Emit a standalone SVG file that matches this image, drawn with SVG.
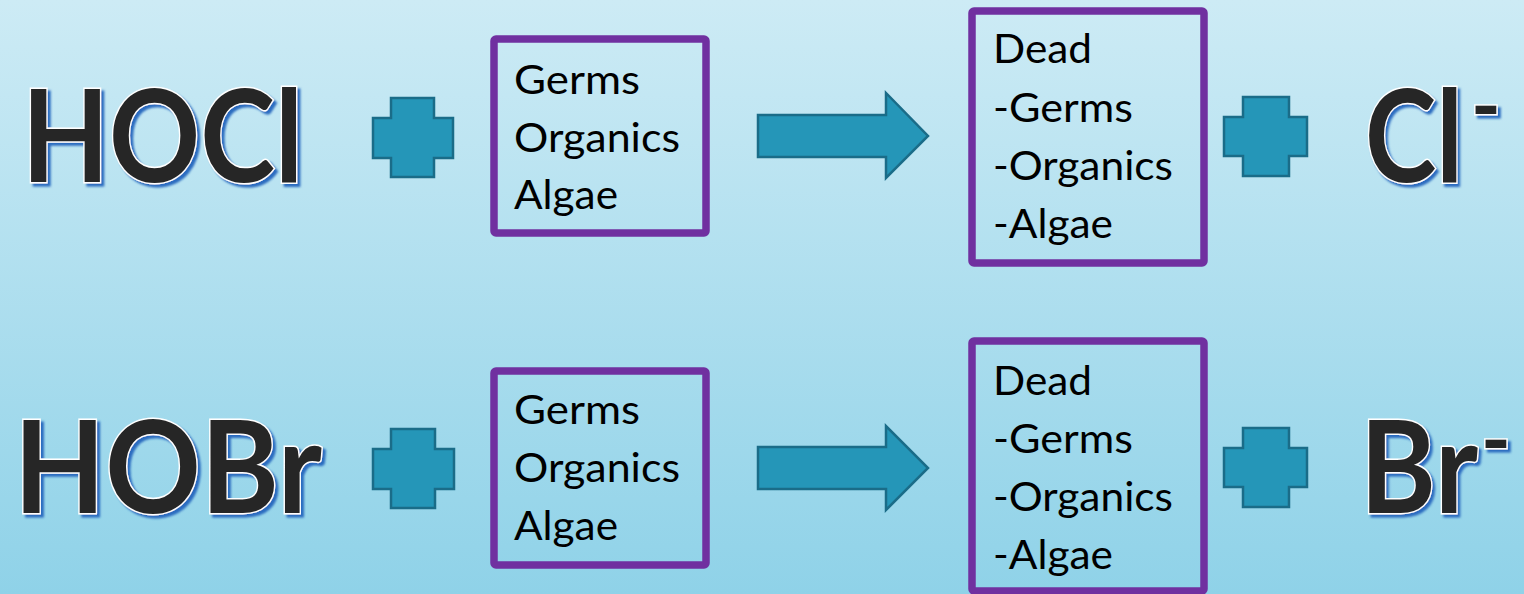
<svg xmlns="http://www.w3.org/2000/svg" width="1524" height="594" viewBox="0 0 1524 594">
<defs>
<linearGradient id="bg" x1="0" y1="0" x2="0" y2="1">
<stop offset="0" stop-color="#cdebf5"/>
<stop offset="1" stop-color="#8fd2e8"/>
</linearGradient>
<filter id="sh" x="-10%" y="-10%" width="130%" height="130%">
<feDropShadow dx="3" dy="3" stdDeviation="1" flood-color="#2a6cc0" flood-opacity="1"/>
</filter>
</defs>
<style>
.big{font-family:Lato,"Open Sans","Liberation Sans",sans-serif;font-weight:bold;font-size:128px;fill:#262626;stroke:#ffffff;stroke-width:3;paint-order:stroke;filter:url(#sh)}
.sup{font-family:Lato,"Open Sans","Liberation Sans",sans-serif;font-weight:bold;font-size:80px;fill:#262626;stroke:#ffffff;stroke-width:3;paint-order:stroke;filter:url(#sh)}
.box{fill:none;stroke:#7030a0;stroke-width:7.5}
.lbl{font-family:Lato,"Open Sans","Liberation Sans",sans-serif;font-size:40px;fill:#000000}
.shape{fill:#2596b8;stroke:#1a6c88;stroke-width:2.5}
</style>
<rect x="0" y="0" width="1524" height="594" fill="url(#bg)"/>

<g id="hocl"><text class="big" x="22" y="182" textLength="281" lengthAdjust="spacingAndGlyphs">HOCl</text></g>
<g id="plus1"><polygon class="shape" points="391,98 434,98 434,118 453,118 453,158 434,158 434,177 391,177 391,158 373,158 373,118 391,118"/></g>
<g id="box1"><rect class="box" x="494" y="39" width="212" height="194" rx="2"/>
<text class="lbl" x="514" y="94" textLength="126" lengthAdjust="spacingAndGlyphs">Germs</text>
<text class="lbl" x="514" y="152" textLength="166" lengthAdjust="spacingAndGlyphs">Organics</text>
<text class="lbl" x="514" y="209" textLength="104" lengthAdjust="spacingAndGlyphs">Algae</text></g>
<g id="box2"><rect class="box" x="972" y="11" width="232" height="252" rx="2"/>
<text class="lbl" x="993" y="63" textLength="99" lengthAdjust="spacingAndGlyphs">Dead</text>
<text class="lbl" x="993" y="122" textLength="140" lengthAdjust="spacingAndGlyphs">-Germs</text>
<text class="lbl" x="993" y="180" textLength="180" lengthAdjust="spacingAndGlyphs">-Organics</text>
<text class="lbl" x="993" y="238" textLength="120" lengthAdjust="spacingAndGlyphs">-Algae</text></g>
<g id="plus2"><polygon class="shape" points="1243,97 1289,97 1289,117 1307,117 1307,156 1289,156 1289,176 1243,176 1243,156 1224,156 1224,117 1243,117"/></g>
<g id="cl"><text class="big" transform="translate(1365,182) scale(0.82,1)" x="0" y="0" textLength="119.5" lengthAdjust="spacingAndGlyphs">Cl</text>
<text class="sup" x="1471" y="134">-</text></g>

<g id="hobr"><text class="big" x="14" y="513" textLength="308" lengthAdjust="spacingAndGlyphs">HOBr</text></g>
<g id="plus3"><polygon class="shape" points="391,429 435,429 435,449 454,449 454,489 435,489 435,508 391,508 391,489 373,489 373,449 391,449"/></g>
<g id="box3"><rect class="box" x="494" y="371" width="212" height="194" rx="2"/>
<text class="lbl" x="514" y="424" textLength="126" lengthAdjust="spacingAndGlyphs">Germs</text>
<text class="lbl" x="514" y="482" textLength="166" lengthAdjust="spacingAndGlyphs">Organics</text>
<text class="lbl" x="514" y="540" textLength="104" lengthAdjust="spacingAndGlyphs">Algae</text></g>
<g id="box4"><rect class="box" x="972" y="341" width="232" height="250" rx="2"/>
<text class="lbl" x="993" y="395" textLength="99" lengthAdjust="spacingAndGlyphs">Dead</text>
<text class="lbl" x="993" y="453" textLength="140" lengthAdjust="spacingAndGlyphs">-Germs</text>
<text class="lbl" x="993" y="511" textLength="180" lengthAdjust="spacingAndGlyphs">-Organics</text>
<text class="lbl" x="993" y="569" textLength="120" lengthAdjust="spacingAndGlyphs">-Algae</text></g>
<g id="plus4"><polygon class="shape" points="1243,428 1289,428 1289,448 1307,448 1307,487 1289,487 1289,507 1243,507 1243,487 1224,487 1224,448 1243,448"/></g>
<g id="br"><text class="big" transform="translate(1360,513) scale(0.87,1)" x="0" y="0" textLength="135.6" lengthAdjust="spacingAndGlyphs">Br</text>
<text class="sup" x="1481" y="468">-</text></g>

<g id="connectors">
<polygon class="shape" points="758,115 886,115 886,93 928,136 886,178 886,157 758,157"/>
<polygon class="shape" points="758,447 886,447 886,426 928,468 886,510 886,489 758,489"/>
</g>
</svg>
